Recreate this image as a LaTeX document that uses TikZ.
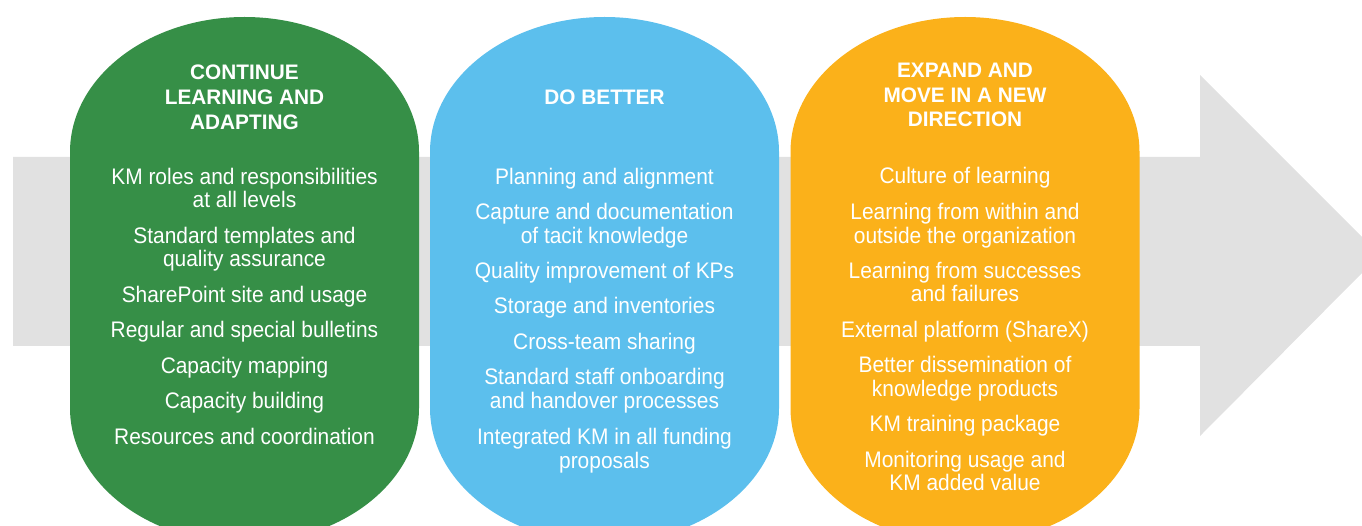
\documentclass[tikz,border=0pt]{standalone}
\usepackage{fontspec}
\setmainfont{Liberation Sans}
\newfontfamily\bodyfont[FakeStretch=0.93]{Liberation Sans}
\newfontfamily\headfont[FakeStretch=0.99]{Liberation Sans Bold}
\definecolor{kmgreen}{HTML}{368F47}
\definecolor{kmblue}{HTML}{5CBFED}
\definecolor{kmorange}{HTML}{FBB11A}
\definecolor{kmgray}{HTML}{E1E1E1}
\tikzset{
  body/.style={text=white, inner sep=0pt, anchor=base, font=\bodyfont\fontsize{22.5}{24}\selectfont},
  head/.style={text=white, inner sep=0pt, anchor=base, font=\headfont\fontsize{21}{24}\selectfont},
}
\begin{document}
\begin{tikzpicture}[x=1pt,y=-1pt]
\useasboundingbox (0,0) rectangle (1362,526);
\clip (0,0) rectangle (1362,526);
% big grey arrow
\fill[kmgray] (13,157) -- (1200,157) -- (1200,75) -- (1362,237) -- (1362,273) -- (1200,436) -- (1200,346) -- (13,346) -- cycle;
% pills
\foreach \cx/\col in {244.5/kmgreen, 604.5/kmblue, 965/kmorange}{
  \fill[\col] (\cx-174.5,408) -- (\cx-174.5,152)
     arc[start angle=180, end angle=360, x radius=174.5, y radius=135]
     -- (\cx+174.5,408)
     arc[start angle=0, end angle=180, x radius=174.5, y radius=135] -- cycle;
}
% green texts
\foreach \t/\y [count=\i] in {CONTINUE/80, LEARNING AND/105, ADAPTING/130}
  \node[head] (gh\i) at (244.5,\y) {\t};
\foreach \t/\y [count=\i] in {
  KM roles and responsibilities/184.5, at all levels/207.5,
  Standard templates and/243.5, quality assurance/266.5,
  SharePoint site and usage/302.5, Regular and special bulletins/337.5,
  Capacity mapping/373.5, Capacity building/408.5,
  Resources and coordination/444.5}
  \node[body] (gb\i) at (244.5,\y) {\t};
% blue texts
\node[head] (bh1) at (604.5,105) {DO BETTER};
\foreach \t/\y [count=\i] in {
  Planning and alignment/184.5,
  Capture and documentation/219.5, of tacit knowledge/243.5,
  Quality improvement of KPs/278.5, Storage and inventories/313.5,
  Cross-team sharing/349.5,
  Standard staff onboarding/384.5, and handover processes/408.5,
  Integrated KM in all funding/444.5, proposals/468.5}
  \node[body] (bb\i) at (604.5,\y) {\t};
% orange texts
\foreach \t/\y [count=\i] in {EXPAND AND/78, MOVE IN A NEW/103, DIRECTION/127}
  \node[head] (oh\i) at (965,\y) {\t};
\foreach \t/\y [count=\i] in {
  Culture of learning/183.5,
  Learning from within and/219.5, outside the organization/243.5,
  Learning from successes/278.5, and failures/301.5,
  External platform (ShareX)/337.5,
  Better dissemination of/372.5, knowledge products/396.5,
  KM training package/431.5,
  Monitoring usage and/467.5, KM added value/490.5}
  \node[body] (ob\i) at (965,\y) {\t};
\end{tikzpicture}
\end{document}
